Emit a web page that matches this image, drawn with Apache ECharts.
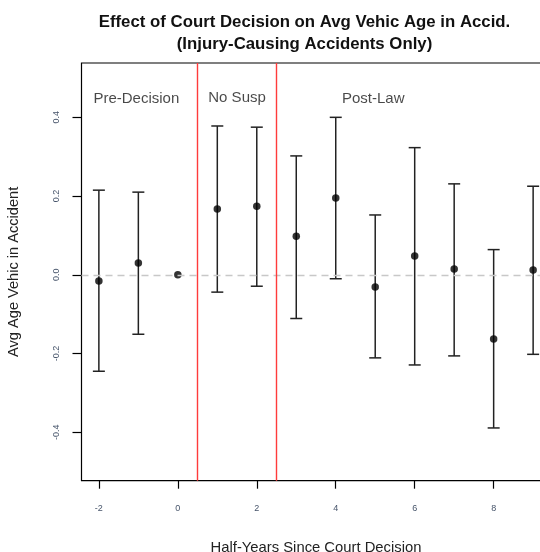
<!DOCTYPE html>
<html>
<head>
<meta charset="utf-8">
<script src="https://cdn.jsdelivr.net/npm/echarts@6/dist/echarts.min.js"></script>
<style>html,body{margin:0;padding:0;background:#fff}#c{width:540px;height:552px}</style>
</head>
<body>
<div id="c"></div>
<script>
const periods = [-2, -1, 0, 1, 2, 3, 4, 5, 6, 7, 8, 9];
const estimates = [-0.016, 0.030, 0.0, 0.167, 0.174, 0.098, 0.195, -0.031, 0.048, 0.015, -0.163, 0.012];
const upper = [0.215, 0.210, 0.0, 0.378, 0.375, 0.302, 0.400, 0.152, 0.323, 0.231, 0.064, 0.225];
const lower = [-0.245, -0.151, 0.0, -0.044, -0.029, -0.111, -0.010, -0.211, -0.229, -0.206, -0.389, -0.202];
const xTicks = [-2, 0, 2, 4, 6, 8];
const yTicks = [-0.4, -0.2, 0.0, 0.2, 0.4];
const boundaries = [0.5, 2.5];
const regionLabels = [
  {name: 'Pre-Decision', x: -1.05, y: 0.447},
  {name: 'No Susp', x: 1.5, y: 0.450},
  {name: 'Post-Law', x: 4.95, y: 0.447}
];

const chart = echarts.init(document.getElementById('c'), null, {renderer: 'canvas'});
const FONT = 'Liberation Sans, Arial, sans-serif';
const tickColor = '#46546a';

chart.setOption({
  animation: false,
  backgroundColor: '#fff',
  title: {
    text: 'Effect of Court Decision on Avg Vehic Age in Accid.\n(Injury-Causing Accidents Only)',
    left: 299.5, top: 6, textAlign: 'center',
    textStyle: {fontFamily: FONT, fontWeight: 'bold', fontSize: 16.8, lineHeight: 22, color: '#111'}
  },
  grid: {left: 81.5, width: 469, top: 63, height: 417.7, containLabel: false, outerBoundsMode: 'none', show: true, borderColor: '#000', borderWidth: 1.2, backgroundColor: 'transparent'},
  xAxis: {
    type: 'value', min: -2.44, max: 9.44,
    name: 'Half-Years Since Court Decision', nameLocation: 'middle', nameGap: 60,
    nameTextStyle: {fontFamily: FONT, fontSize: 14.8, color: '#222'},
    axisLine: {show: false, onZero: false},
    splitLine: {show: false},
    axisTick: {show: true, length: 8, lineStyle: {color: '#000', width: 1.2}, customValues: xTicks},
    axisLabel: {customValues: xTicks, margin: 23, fontFamily: FONT, fontSize: 9, color: tickColor, formatter: v => String(v)}
  },
  yAxis: {
    type: 'value', min: -0.523, max: 0.538,
    name: 'Avg Age Vehic in Accident', nameLocation: 'middle', nameGap: 60,
    nameTextStyle: {fontFamily: FONT, fontSize: 14.6, color: '#222'},
    axisLine: {show: false, onZero: false},
    splitLine: {show: false},
    axisTick: {show: true, length: 9, lineStyle: {color: '#000', width: 1.2}, customValues: yTicks},
    axisLabel: {customValues: yTicks, rotate: 90, margin: 20, fontFamily: FONT, fontSize: 9, color: tickColor, formatter: v => v.toFixed(1)}
  },
  series: [
    {
      type: 'line', data: [], silent: true,
      markLine: {
        symbol: 'none', silent: true, label: {show: false},
        data: [
          {yAxis: 0, lineStyle: {color: '#c8c8c8', type: [7, 5], width: 1.3}},
          ...boundaries.map(b => ({xAxis: b, lineStyle: {color: '#ff3b3b', type: 'solid', width: 1.4}}))
        ]
      }
    },
    {
      type: 'custom',
      data: periods.map((p, i) => [p, lower[i], upper[i]]),
      renderItem: function (params, api) {
        const x = api.value(0);
        if (api.value(1) === api.value(2)) return null;
        const lo = api.coord([x, api.value(1)]);
        const hi = api.coord([x, api.value(2)]);
        const hw = 6;
        const style = {stroke: '#222', lineWidth: 1.5};
        return {
          type: 'group',
          children: [
            {type: 'line', shape: {x1: lo[0], y1: lo[1], x2: hi[0], y2: hi[1]}, style},
            {type: 'line', shape: {x1: lo[0] - hw, y1: lo[1], x2: lo[0] + hw, y2: lo[1]}, style},
            {type: 'line', shape: {x1: hi[0] - hw, y1: hi[1], x2: hi[0] + hw, y2: hi[1]}, style}
          ]
        };
      },
      z: 3
    },
    {
      type: 'scatter',
      data: periods.map((p, i) => [p, estimates[i]]),
      symbol: 'circle', symbolSize: 7.5,
      itemStyle: {color: '#000'},
      z: 4
    },
    {
      type: 'scatter',
      data: regionLabels.map(r => ({name: r.name, value: [r.x, r.y]})),
      symbolSize: 0,
      label: {show: true, position: 'inside', formatter: '{b}', fontFamily: FONT, fontSize: 15, color: '#1a1a1a'},
      z: 5
    }
  ]
});
</script>
</body>
</html>
